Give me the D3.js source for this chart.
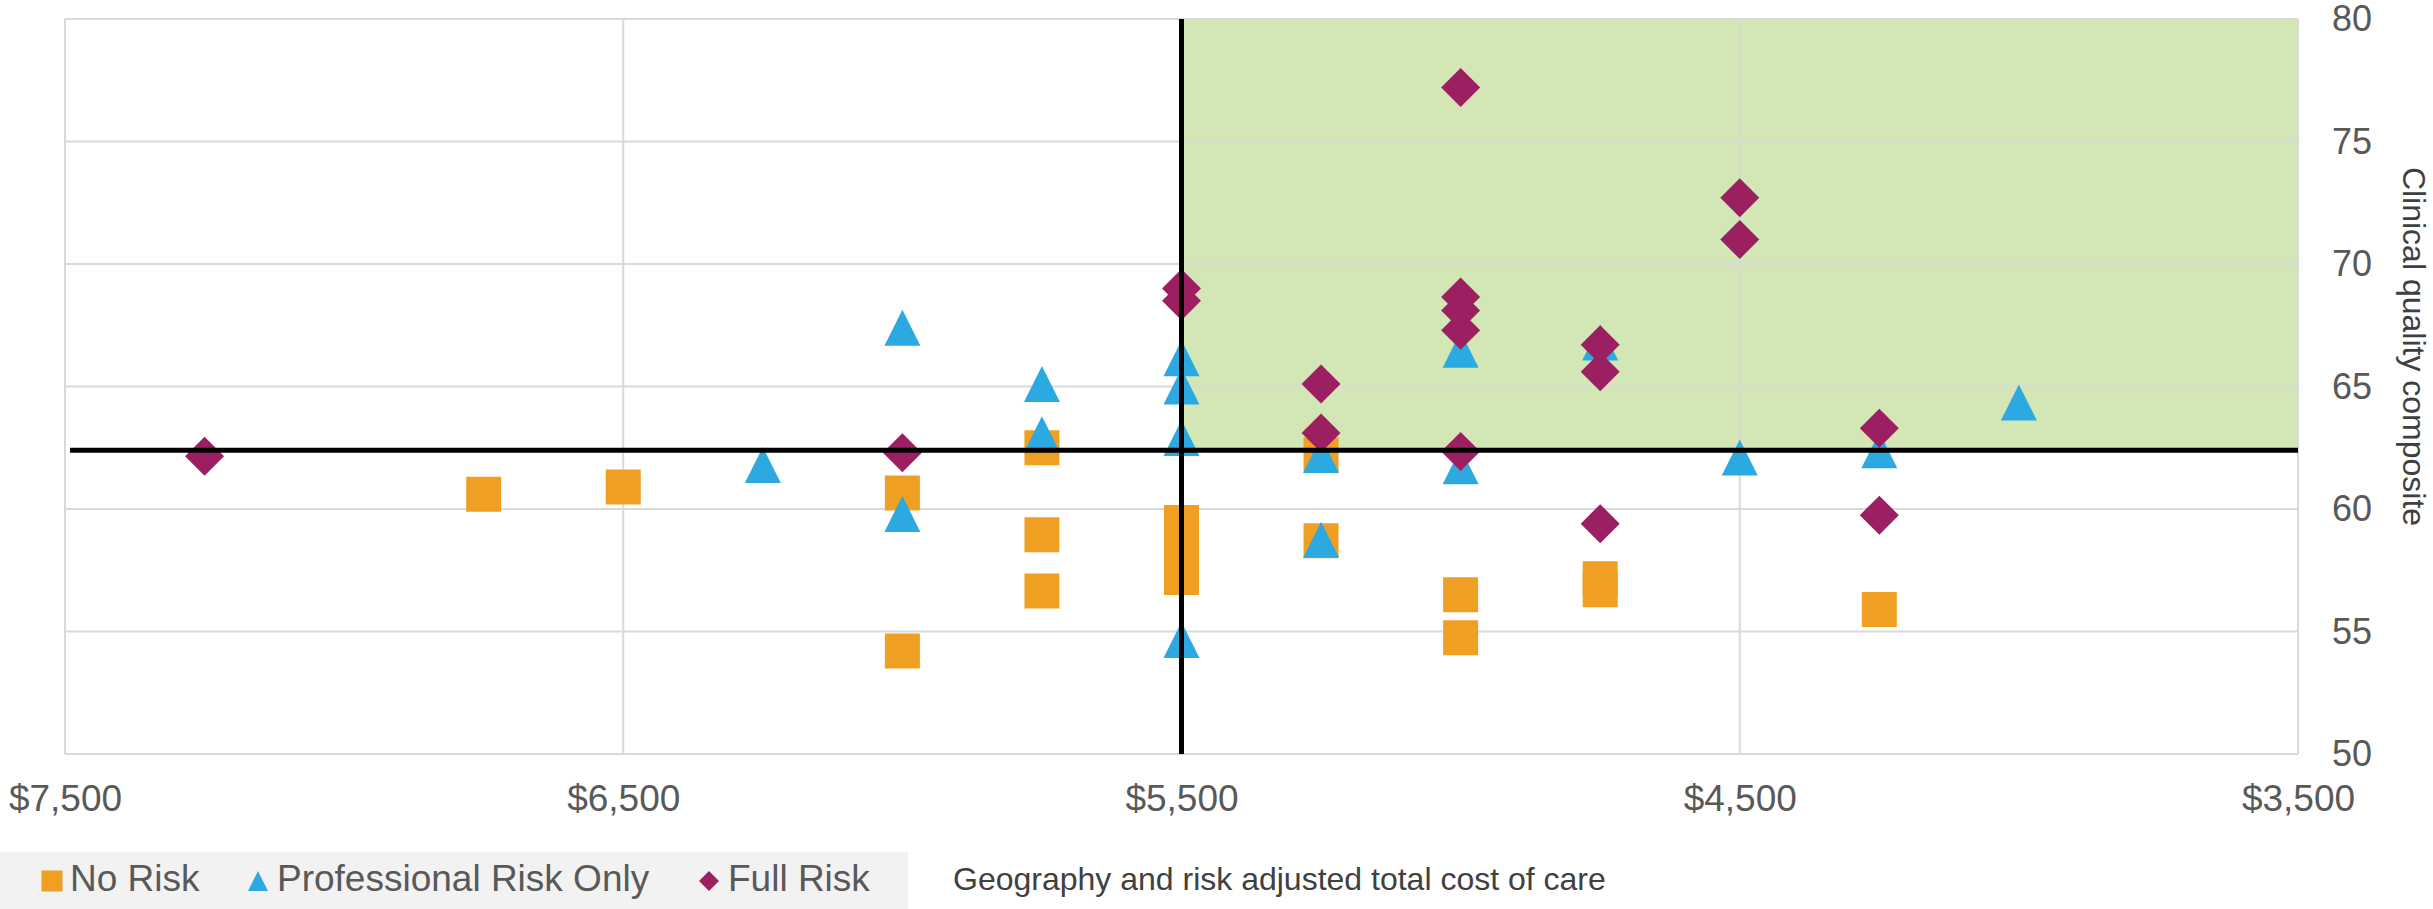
<!DOCTYPE html>
<html>
<head>
<meta charset="utf-8">
<script src="https://cdn.jsdelivr.net/npm/d3@7"></script>
<style>
  html, body { margin: 0; padding: 0; background: #ffffff; }
  svg { display: block; font-family: "Liberation Sans", Arial, sans-serif; }
</style>
</head>
<body>
<svg id="chart" width="2433" height="909"></svg>
<script>
// Cost (x) and clinical quality (y) per practice, grouped by risk arrangement
const noRisk = [
  [6750, 60.6], [6500, 60.9], [6000, 60.65], [6000, 54.2],
  [5750, 62.5], [5750, 58.95], [5750, 56.65],
  [5500, 59.45], [5500, 58.35], [5500, 57.2],
  [5250, 62.2], [5250, 58.7],
  [5000, 56.5], [5000, 54.75],
  [4750, 57.15], [4750, 56.7],
  [4250, 55.9]
];
const professionalRisk = [
  [6250, 61.8], [6000, 67.4], [6000, 59.8],
  [5750, 65.1], [5750, 63.05],
  [5500, 66.15], [5500, 65.0], [5500, 62.9], [5500, 54.65],
  [5250, 62.2], [5250, 58.75],
  [5000, 66.5], [5000, 61.75],
  [4750, 66.8], [4500, 62.1], [4250, 62.4], [4000, 64.35]
];
const fullRisk = [
  [7250, 62.15], [6000, 62.3],
  [5500, 69.0], [5500, 68.5],
  [5250, 65.1], [5250, 63.1],
  [5000, 77.2], [5000, 68.65], [5000, 68.1], [5000, 67.3], [5000, 62.35],
  [4750, 66.7], [4750, 65.6], [4750, 59.4],
  [4500, 72.7], [4500, 71.0],
  [4250, 63.3], [4250, 59.75]
];

const costTicks = [7500, 6500, 5500, 4500, 3500];
const costTickLabels = ["$7,500", "$6,500", "$5,500", "$4,500", "$3,500"];
const qualityTicks = [50, 55, 60, 65, 70, 75, 80];
const seriesNames = ["No Risk", "Professional Risk Only", "Full Risk"];
const costBenchmark = 5500;
const qualityBenchmark = 62.4;
const xTitle = "Geography and risk adjusted total cost of care";
const yTitle = "Clinical quality composite";

const colors = { square: "#EF9F22", triangle: "#2DA9E1", diamond: "#9C1F61" };

const svg = d3.select("#chart");
const box = { left: 65, right: 2298, top: 19, bottom: 754 };

const x = d3.scaleLinear().domain([7500, 3500]).range([box.left, box.right]);
const y = d3.scaleLinear().domain([50, 80]).range([box.bottom, box.top]);

// Marker shapes, each centred on its bounding box; size = width in px
const squareSym = { draw(ctx, s) { const h = s / 2; ctx.rect(-h, -h, s, s); } };
const triangleSym = { draw(ctx, s) { const h = s / 2; ctx.moveTo(0, -h); ctx.lineTo(h, h); ctx.lineTo(-h, h); ctx.closePath(); } };
const diamondSym = { draw(ctx, s) { const h = s / 2; ctx.moveTo(0, -h); ctx.lineTo(h, 0); ctx.lineTo(0, h); ctx.lineTo(-h, 0); ctx.closePath(); } };

// Top-right quadrant: cheaper than benchmark and above quality benchmark
svg.append("rect")
  .attr("x", x(costBenchmark)).attr("y", y(80))
  .attr("width", x(3500) - x(costBenchmark))
  .attr("height", y(qualityBenchmark) - y(80))
  .attr("fill", "#D2E7B5");

// Gridlines
const grid = svg.append("g").attr("stroke", "#D9D9D9").attr("stroke-width", 2);
grid.selectAll("line.h").data(qualityTicks).join("line")
  .attr("x1", box.left).attr("x2", box.right)
  .attr("y1", d => y(d)).attr("y2", d => y(d));
grid.selectAll("line.v").data(costTicks).join("line")
  .attr("y1", box.top).attr("y2", box.bottom)
  .attr("x1", d => x(d)).attr("x2", d => x(d));

// Series markers
function drawSeries(data, sym, size, color) {
  svg.append("g").selectAll("path").data(data).join("path")
    .attr("transform", d => `translate(${x(d[0])},${y(d[1])})`)
    .attr("d", d3.symbol().type(sym).size(size))
    .attr("fill", color);
}
drawSeries(noRisk, squareSym, 35, colors.square);
drawSeries(professionalRisk, triangleSym, 36, colors.triangle);
drawSeries(fullRisk, diamondSym, 39, colors.diamond);

// Benchmark lines
svg.append("line")
  .attr("x1", x(7500) + 5).attr("x2", x(3500))
  .attr("y1", y(qualityBenchmark)).attr("y2", y(qualityBenchmark))
  .attr("stroke", "#000").attr("stroke-width", 5);
svg.append("line")
  .attr("x1", x(costBenchmark)).attr("x2", x(costBenchmark))
  .attr("y1", y(80)).attr("y2", y(50))
  .attr("stroke", "#000").attr("stroke-width", 5);

// Axes
const xAxis = d3.axisBottom(x).tickValues(costTicks)
  .tickFormat((d, i) => costTickLabels[i]).tickSize(0).tickPadding(31);
svg.append("g").attr("transform", `translate(0,${box.bottom})`).call(xAxis)
  .call(g => g.select(".domain").remove())
  .call(g => g.selectAll("text").attr("fill", "#595959")
    .style("font-size", "37px").style("font-family", "'Liberation Sans', Arial, sans-serif"));

const yAxis = d3.axisRight(y).tickValues(qualityTicks).tickSize(0).tickPadding(34);
svg.append("g").attr("transform", `translate(${box.right},0)`).call(yAxis)
  .call(g => g.select(".domain").remove())
  .call(g => g.selectAll("text").attr("fill", "#595959")
    .style("font-size", "36px").style("font-family", "'Liberation Sans', Arial, sans-serif"));

// Axis titles
svg.append("text")
  .attr("transform", `translate(2403,${(y(80) + y(50)) / 2 - 40}) rotate(90)`)
  .attr("text-anchor", "middle")
  .attr("fill", "#404040").style("font-size", "32px")
  .text(yTitle);

svg.append("text")
  .attr("x", 953).attr("y", 890)
  .attr("fill", "#404040").style("font-size", "32px")
  .text(xTitle);

// Legend
const legend = svg.append("g");
legend.append("rect").attr("x", 0).attr("y", 852).attr("width", 908).attr("height", 57).attr("fill", "#F2F2F2");
const legendItems = [
  { name: seriesNames[0], sym: squareSym, size: 21, color: colors.square, mx: 52, tx: 70 },
  { name: seriesNames[1], sym: triangleSym, size: 20, color: colors.triangle, mx: 258, tx: 277 },
  { name: seriesNames[2], sym: diamondSym, size: 20, color: colors.diamond, mx: 709, tx: 728 }
];
legendItems.forEach(it => {
  legend.append("path")
    .attr("transform", `translate(${it.mx},881)`)
    .attr("d", d3.symbol().type(it.sym).size(it.size))
    .attr("fill", it.color);
  legend.append("text").attr("x", it.tx).attr("y", 891)
    .attr("fill", "#595959").style("font-size", "37px").text(it.name);
});
</script>
</body>
</html>
